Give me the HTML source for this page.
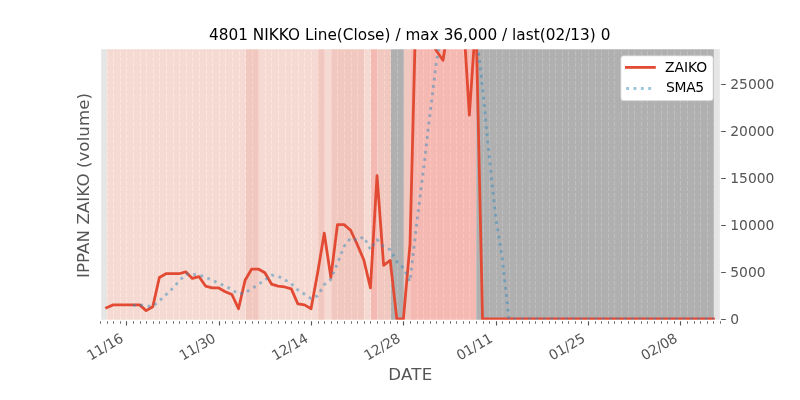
<!DOCTYPE html>
<html lang="en"><head><meta charset="utf-8"><title>4801 NIKKO ZAIKO</title>
<style>html,body{margin:0;padding:0;background:#fff}body{width:800px;height:400px;overflow:hidden}svg{display:block}</style>
</head><body>
<svg width="800" height="400" viewBox="0 0 800 400">
<defs><clipPath id="ax"><rect x="100" y="48" width="620" height="272"/></clipPath></defs>
<rect width="800" height="400" fill="#fff"/>
<rect x="100" y="48" width="620" height="272" fill="#e5e5e5"/>
<g id="spans">
<rect x="107.05" y="48" width="138.51" height="272" fill="#f4dad2"/>
<rect x="245.56" y="48" width="13.19" height="272" fill="#f0c8c0"/>
<rect x="258.75" y="48" width="59.36" height="272" fill="#f4dad2"/>
<rect x="318.11" y="48" width="6.6" height="272" fill="#f0c8c0"/>
<rect x="324.71" y="48" width="6.6" height="272" fill="#f4dad2"/>
<rect x="331.3" y="48" width="32.98" height="272" fill="#f0c8c0"/>
<rect x="364.28" y="48" width="6.6" height="272" fill="#f4dad2"/>
<rect x="370.88" y="48" width="6.6" height="272" fill="#f3b9b2"/>
<rect x="377.47" y="48" width="13.19" height="272" fill="#f0c8c0"/>
<rect x="390.66" y="48" width="13.19" height="272" fill="#b0b0b0"/>
<rect x="403.85" y="48" width="6.6" height="272" fill="#f0c8c0"/>
<rect x="410.45" y="48" width="65.96" height="272" fill="#f3b9b2"/>
<rect x="476.41" y="48" width="237.45" height="272" fill="#b0b0b0"/>
</g>
<g id="grid" stroke-width="1" stroke-dasharray="4.11 1.78" stroke-dashoffset="0.6" fill="none">
<path d="M107.5 320V48M113.5 320V48M120.5 320V48M126.5 320V48M133.5 320V48M140.5 320V48M146.5 320V48M153.5 320V48M159.5 320V48M166.5 320V48M173.5 320V48M179.5 320V48M186.5 320V48M192.5 320V48M199.5 320V48M206.5 320V48M212.5 320V48M219.5 320V48M225.5 320V48M232.5 320V48M239.5 320V48M245.5 320V48M265.5 320V48M271.5 320V48M278.5 320V48M285.5 320V48M291.5 320V48M298.5 320V48M304.5 320V48M311.5 320V48M364.5 320V48M370.5 320V48" stroke="#ffe5dc"/>
<path d="M252.5 320V48M258.5 320V48M318.5 320V48M324.5 320V48M331.5 320V48M337.5 320V48M344.5 320V48M351.5 320V48M357.5 320V48M377.5 320V48M384.5 320V48M390.5 320V48" stroke="#fcd3ca"/>
<path d="M397.5 320V48M403.5 320V48M476.5 320V48M483.5 320V48M489.5 320V48M496.5 320V48M502.5 320V48M509.5 320V48M516.5 320V48M522.5 320V48M529.5 320V48M535.5 320V48M542.5 320V48M549.5 320V48M555.5 320V48M562.5 320V48M568.5 320V48M575.5 320V48M581.5 320V48M588.5 320V48M595.5 320V48M601.5 320V48M608.5 320V48M614.5 320V48M621.5 320V48M628.5 320V48M634.5 320V48M641.5 320V48M647.5 320V48M654.5 320V48M661.5 320V48M667.5 320V48M674.5 320V48M680.5 320V48M687.5 320V48M694.5 320V48M700.5 320V48M707.5 320V48M713.5 320V48" stroke="#bfbfbf"/>
<path d="M410.5 320V48M417.5 320V48M423.5 320V48M430.5 320V48M436.5 320V48M443.5 320V48M450.5 320V48M456.5 320V48M463.5 320V48M469.5 320V48" stroke="#ffc4bb"/>
</g>
<g clip-path="url(#ax)" fill="none">
<polyline points="106.6,307.68 113.19,304.86 119.79,304.86 126.38,304.86 132.98,304.86 139.57,304.86 146.17,310.59 152.77,306.74 159.36,277.49 165.96,273.73 172.55,273.73 179.15,273.73 185.74,271.85 192.34,278.43 198.94,276.55 205.53,286.05 212.13,287.93 218.72,287.93 225.32,291.69 231.91,294.51 238.51,308.71 245.11,280.31 251.7,269.02 258.3,269.02 264.89,272.79 271.49,284.07 278.09,286.05 284.68,286.99 291.28,288.87 297.87,303.92 304.47,304.86 311.06,308.71 317.66,272.79 324.26,233.1 330.85,277.49 337.45,224.63 344.04,224.63 350.64,230.27 357.23,244.48 363.83,259.99 370.43,287.93 377.02,175.54 383.62,265.26 390.21,260.46 396.81,318.87 403.4,318.87 410,244.48 416.6,-20 423.19,-1.1 429.79,36.71 436.38,50.82 442.98,60.32 449.57,20.63 456.17,-20 462.77,8.31 469.36,115.06 475.96,17.81 482.55,318.87 489.15,318.87 495.74,318.87 502.34,318.87 508.94,318.87 515.53,318.87 522.13,318.87 528.72,318.87 535.32,318.87 541.91,318.87 548.51,318.87 555.11,318.87 561.7,318.87 568.3,318.87 574.89,318.87 581.49,318.87 588.09,318.87 594.68,318.87 601.28,318.87 607.87,318.87 614.47,318.87 621.06,318.87 627.66,318.87 634.26,318.87 640.85,318.87 647.45,318.87 654.04,318.87 660.64,318.87 667.23,318.87 673.83,318.87 680.43,318.87 687.02,318.87 693.62,318.87 700.21,318.87 706.81,318.87 713.4,318.87" stroke="#e24a33" stroke-width="2.78" stroke-linejoin="round" stroke-linecap="square"/>
<polyline points="132.98,305.42 139.57,304.86 146.17,306 152.77,306.38 159.36,300.91 165.96,294.68 172.55,288.45 179.15,281.08 185.74,274.1 192.34,274.29 198.94,274.85 205.53,277.32 212.13,280.16 218.72,283.38 225.32,286.03 231.91,289.62 238.51,294.15 245.11,292.63 251.7,288.85 258.3,284.32 264.89,279.97 271.49,275.04 278.09,276.19 284.68,279.78 291.28,283.75 297.87,289.98 304.47,294.14 311.06,298.67 317.66,295.83 324.26,284.67 330.85,279.39 337.45,263.34 344.04,246.53 350.64,238.02 357.23,240.3 363.83,236.8 370.43,249.46 377.02,239.64 383.62,246.64 390.21,249.84 396.81,261.61 403.4,267.8 410,281.59 416.6,224.54 423.19,172.22 429.79,115.79 436.38,62.18 442.98,25.35 449.57,33.48 456.17,29.7 462.77,24.02 469.36,36.86 475.96,28.36 482.55,88.01 489.15,155.78 495.74,217.9 502.34,258.66 508.94,318.87 515.53,318.87 522.13,318.87 528.72,318.87 535.32,318.87 541.91,318.87 548.51,318.87 555.11,318.87 561.7,318.87 568.3,318.87 574.89,318.87 581.49,318.87 588.09,318.87 594.68,318.87 601.28,318.87 607.87,318.87 614.47,318.87 621.06,318.87 627.66,318.87 634.26,318.87 640.85,318.87 647.45,318.87 654.04,318.87 660.64,318.87 667.23,318.87 673.83,318.87 680.43,318.87 687.02,318.87 693.62,318.87 700.21,318.87 706.81,318.87 713.4,318.87" stroke="#348abd" stroke-opacity="0.5" stroke-width="2.78" stroke-linejoin="round" stroke-dasharray="2.78 4.58"/>
</g>
<path d="M100.5 320v3.8M107.5 320v3.8M113.5 320v3.8M120.5 320v3.8M133.5 320v3.8M140.5 320v3.8M146.5 320v3.8M153.5 320v3.8M159.5 320v3.8M166.5 320v3.8M173.5 320v3.8M179.5 320v3.8M186.5 320v3.8M192.5 320v3.8M199.5 320v3.8M206.5 320v3.8M212.5 320v3.8M225.5 320v3.8M232.5 320v3.8M239.5 320v3.8M245.5 320v3.8M252.5 320v3.8M258.5 320v3.8M265.5 320v3.8M271.5 320v3.8M278.5 320v3.8M285.5 320v3.8M291.5 320v3.8M298.5 320v3.8M304.5 320v3.8M318.5 320v3.8M324.5 320v3.8M331.5 320v3.8M337.5 320v3.8M344.5 320v3.8M351.5 320v3.8M357.5 320v3.8M364.5 320v3.8M370.5 320v3.8M377.5 320v3.8M384.5 320v3.8M390.5 320v3.8M397.5 320v3.8M410.5 320v3.8M417.5 320v3.8M423.5 320v3.8M430.5 320v3.8M436.5 320v3.8M443.5 320v3.8M450.5 320v3.8M456.5 320v3.8M463.5 320v3.8M469.5 320v3.8M476.5 320v3.8M483.5 320v3.8M489.5 320v3.8M502.5 320v3.8M509.5 320v3.8M516.5 320v3.8M522.5 320v3.8M529.5 320v3.8M535.5 320v3.8M542.5 320v3.8M549.5 320v3.8M555.5 320v3.8M562.5 320v3.8M568.5 320v3.8M575.5 320v3.8M581.5 320v3.8M595.5 320v3.8M601.5 320v3.8M608.5 320v3.8M614.5 320v3.8M621.5 320v3.8M628.5 320v3.8M634.5 320v3.8M641.5 320v3.8M647.5 320v3.8M654.5 320v3.8M661.5 320v3.8M667.5 320v3.8M674.5 320v3.8M687.5 320v3.8M694.5 320v3.8M700.5 320v3.8M707.5 320v3.8M713.5 320v3.8M720.5 320v3.8" stroke="#555" stroke-width="0.83" fill="none"/>
<path d="M126.5 320v5.6M219.5 320v5.6M311.5 320v5.6M403.5 320v5.6M496.5 320v5.6M588.5 320v5.6M680.5 320v5.6" stroke="#555" stroke-width="1.11" fill="none"/>
<path d="M720 319.5h5.8M720 272.5h5.8M720 225.5h5.8M720 178.5h5.8M720 131.5h5.8M720 84.5h5.8" stroke="#555" stroke-width="1.11" fill="none"/>
<g stroke="#fff" stroke-width="1.39" stroke-linecap="square" fill="none"><path d="M100.5 48V320M720.5 48V320M100 48.5H720M100 320.5H720"/></g>
<g font-family="'DejaVu Sans','Liberation Sans',sans-serif" fill="#555" font-size="13.89px">
<text x="730.3" y="324.27">0</text>
<text x="730.3" y="277.25">5000</text>
<text x="730.3" y="230.22">10000</text>
<text x="730.3" y="183.19">15000</text>
<text x="730.3" y="136.17">20000</text>
<text x="730.3" y="89.14">25000</text>
<text transform="translate(124.38 341.1) rotate(-30)" text-anchor="end" textLength="39.1">11/16</text>
<text transform="translate(216.72 341.1) rotate(-30)" text-anchor="end" textLength="39.1">11/30</text>
<text transform="translate(309.06 341.1) rotate(-30)" text-anchor="end" textLength="39.1">12/14</text>
<text transform="translate(401.4 341.1) rotate(-30)" text-anchor="end" textLength="39.1">12/28</text>
<text transform="translate(493.74 341.1) rotate(-30)" text-anchor="end" textLength="39.1">01/11</text>
<text transform="translate(586.09 341.1) rotate(-30)" text-anchor="end" textLength="39.1">01/25</text>
<text transform="translate(678.43 341.1) rotate(-30)" text-anchor="end" textLength="39.1">02/08</text>
</g>
<text x="410.25" y="380.1" text-anchor="middle" textLength="43.85" font-family="'DejaVu Sans','Liberation Sans',sans-serif" font-size="16.67px" fill="#555">DATE</text>
<text transform="translate(88.6 185.5) rotate(-90)" text-anchor="middle" textLength="185.1" font-family="'DejaVu Sans','Liberation Sans',sans-serif" font-size="16.67px" fill="#555">IPPAN ZAIKO (volume)</text>
<text x="209.0" y="39.67" textLength="401.4" font-family="'DejaVu Sans','Liberation Sans',sans-serif" font-size="15.28px" fill="#000">4801 NIKKO Line(Close) / max 36,000 / last(02/13) 0</text>
<rect x="620.85" y="55.75" width="92.3" height="45.0" rx="2.78" fill="#fff" stroke="#ccc" stroke-width="0.69"/>
<path d="M626.4 67.4H654.4" stroke="#e24a33" stroke-width="2.78" stroke-linecap="square" fill="none"/>
<path d="M626.2 88.5H654" stroke="#348abd" stroke-opacity="0.5" stroke-width="2.78" stroke-dasharray="2.78 4.58" fill="none"/>
<g font-family="'DejaVu Sans','Liberation Sans',sans-serif" fill="#000" font-size="13.89px"><text x="664.9" y="71.9">ZAIKO</text><text x="665.9" y="92.3" textLength="38.3">SMA5</text></g>
</svg>
</body></html>
